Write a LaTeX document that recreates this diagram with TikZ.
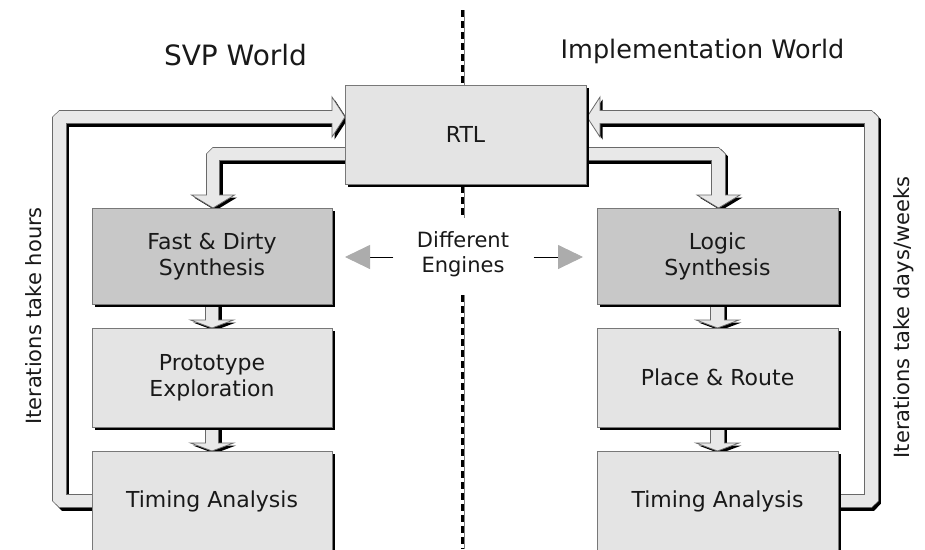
\documentclass[tikz,border=0pt]{standalone}
\usepackage{fontspec}
\setmainfont{DejaVu Sans}
\usetikzlibrary{calc,shadows,arrows.meta}

\definecolor{boxlight}{RGB}{228,228,228}
\definecolor{boxdark}{RGB}{200,200,200}
\definecolor{linkfill}{RGB}{232,232,232}
\definecolor{linkedge}{RGB}{105,105,105}
\definecolor{boxedge}{RGB}{120,120,120}
\definecolor{enginegray}{RGB}{172,172,172}
\definecolor{ink}{RGB}{25,25,25}

% Hollow "fat" connector with a drop shadow:
% #1 = shaft path, #2 = arrow-head polygon (without "-- cycle")
\newcommand\fatlink[2]{%
  \begin{scope}[transform canvas={shift={(2.5pt,-2.5pt)}}]
    \draw[black, line width=14.5pt, line join=bevel] #1;
    \fill[black] #2 -- cycle;
  \end{scope}
  \draw[linkedge, line width=14.5pt, line join=bevel] #1;
  \filldraw[fill=linkfill, draw=linkedge, line width=0.8pt, line join=miter] #2 -- cycle;
  \draw[linkfill, line width=12.9pt, line join=bevel] #1;
}

\tikzset{
  box/.style={draw=boxedge, line width=0.8pt, fill=boxlight, inner sep=0pt,
    outer sep=0pt, align=center, minimum width=240pt,
    font=\fontsize{22}{26}\selectfont,
    general shadow={fill=black, shadow xshift=2.5pt, shadow yshift=-2.5pt}},
  synthbox/.style={box, fill=boxdark},
  title/.style={anchor=base},
  sidelabel/.style={rotate=90, inner sep=0pt},
  divider/.style={black, line width=2.4pt, dash pattern=on 7pt off 4pt},
  enginearrow/.style={black, line width=0.9pt,
    -{Triangle[length=25pt, width=24pt, color=enginegray]}},
}

\begin{document}
\begin{tikzpicture}[x=1pt, y=-1pt, font=\fontsize{21}{25.5}\selectfont, text=ink]
\useasboundingbox[fill=white] (0,0) rectangle (925,549);

% dividing line between the two worlds
\draw[gray, line width=0.6pt] (464,10) -- (464,85) (464,186) -- (464,218) (464,295) -- (464,549);
\draw[divider] (462.5,10) -- (462.5,85) (462.5,186) -- (462.5,218) (462.5,295) -- (462.5,549);

% titles
\node[title, font=\fontsize{28}{32}\selectfont] (svp) at (235.5,65) {SVP World};
\node[title, font=\fontsize{25.5}{30}\selectfont] (impl) at (702.5,58) {Implementation World};

% boxes (positions only; drawn here to get anchors, redrawn after links)
\path
  (465.5,134.5) node[box, minimum width=241pt, minimum height=99pt] (rtl) {}
  (212,256)     node[synthbox, minimum height=96pt] (fds) {}
  (212,377.5)   node[box, minimum height=99pt] (proto) {}
  (212,501)     node[box, minimum height=100pt] (ta1) {}
  (717.5,256)   node[synthbox, minimum width=241pt, minimum height=96pt] (logic) {}
  (717.5,377.5) node[box, minimum width=241pt, minimum height=99pt] (pr) {}
  (717.5,501)   node[box, minimum width=241pt, minimum height=100pt] (ta2) {};

% feedback loops
\fatlink{(ta1.west) -- ++(-32.5,0) |- ($(rtl.north west)+(-11.5,32)$)}
        {($(rtl.north west)+(-13,12)$) -- ($(rtl.north west)+(0,32)$) -- ($(rtl.north west)+(-13,52)$)}
\fatlink{(ta2.east) -- ++(33.5,0) |- ($(rtl.north east)+(12.5,32)$)}
        {($(rtl.north east)+(14,12)$) -- ($(rtl.north east)+(1,32)$) -- ($(rtl.north east)+(14,52)$)}

% RTL to the two synthesis engines
\fatlink{($(rtl.west)+(0,19.5)$) -| ($(fds.north)+(1,-11.5)$)}
        {($(fds.north)+(-20.5,-13)$) -- ($(fds.north)+(1,0)$) -- ($(fds.north)+(22.5,-13)$)}
\fatlink{($(rtl.east)+(0,19.5)$) -| ($(logic.north)+(1,-11.5)$)}
        {($(logic.north)+(-20.5,-13)$) -- ($(logic.north)+(1,0)$) -- ($(logic.north)+(22.5,-13)$)}

% flow steps inside each column
\fatlink{(fds.south) -- ($(proto.north)+(0,-6.5)$)}
        {($(proto.north)+(-21.5,-8)$) -- (proto.north) -- ($(proto.north)+(21.5,-8)$)}
\fatlink{(proto.south) -- ($(ta1.north)+(0,-6.5)$)}
        {($(ta1.north)+(-21.5,-8)$) -- (ta1.north) -- ($(ta1.north)+(21.5,-8)$)}
\fatlink{(logic.south) -- ($(pr.north)+(0,-6.5)$)}
        {($(pr.north)+(-21.5,-8)$) -- (pr.north) -- ($(pr.north)+(21.5,-8)$)}
\fatlink{(pr.south) -- ($(ta2.north)+(0,-6.5)$)}
        {($(ta2.north)+(-21.5,-8)$) -- (ta2.north) -- ($(ta2.north)+(21.5,-8)$)}

% boxes with their texts
\node[box, minimum width=241pt, minimum height=99pt] at (rtl) {RTL};
\node[synthbox, minimum height=96pt] at (fds) {Fast \& Dirty\\Synthesis};
\node[box, minimum height=99pt] at (proto) {Prototype\\Exploration};
\node[box, minimum height=100pt] at (ta1) {Timing Analysis};
\node[synthbox, minimum width=241pt, minimum height=96pt] at (logic) {Logic\\Synthesis};
\node[box, minimum width=241pt, minimum height=99pt] at (pr) {Place \& Route};
\node[box, minimum width=241pt, minimum height=100pt] at (ta2) {Timing Analysis};

% different engines
\node[align=center] (de) at (463,254) {Different\\Engines};
\coordinate (engL) at (345,257);
\coordinate (engR) at (583,257);
\draw[enginearrow] ($(de.west)+(-20,3)$) -- (engL);
\draw[enginearrow] ($(de.east)+(21,3)$) -- (engR);

% iteration labels
\node[sidelabel] (hours) at (34,316) {Iterations take hours};
\node[sidelabel] (weeks) at (903.5,317.5) {Iterations take days/weeks};
\end{tikzpicture}
\end{document}
